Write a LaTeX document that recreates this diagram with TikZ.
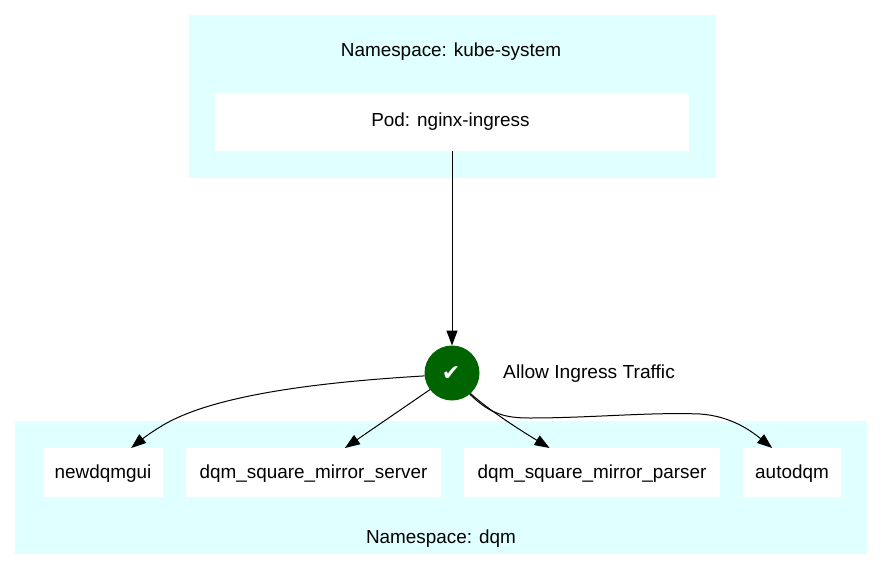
\documentclass[tikz,border=0pt]{standalone}
\usepackage{fontspec}
\setmainfont{Liberation Sans}
\newfontfamily\symfont{DejaVu Sans}
\usetikzlibrary{arrows.meta}
\definecolor{nsfill}{HTML}{E0FFFF}
\definecolor{okgreen}{HTML}{006400}
\newcommand{\lowered}[1]{\raisebox{-1.2pt}[\height][\depth]{#1}}
\tikzset{
  nsbox/.style={fill=nsfill,draw=none,inner sep=0pt,outer sep=0pt,anchor=north west},
  podbox/.style={fill=white,draw=none,inner sep=0pt,outer sep=0pt,align=center,font=\fontsize{18.9}{22}\selectfont},
  lbl/.style={inner sep=0pt,font=\fontsize{18.9}{22}\selectfont},
  edge/.style={draw=black,line width=1pt,-{Triangle[length=15pt,width=11pt]}}
}
\begin{document}
\begin{tikzpicture}[x=1pt,y=-1pt]
\useasboundingbox (0,0) rectangle (883,570);
\node[nsbox,minimum width=527pt,minimum height=163pt] (nsk) at (189,15) {};
\node[nsbox,minimum width=852pt,minimum height=133pt] (nsd) at (15,421) {};
\node[lbl] (nsklabel) at (451,51.5) {Namespace: kube-system};
\node[lbl] (nsdlabel) at (441,538.5) {Namespace: dqm};
\node[podbox,minimum width=474pt,minimum height=58pt] (pod) at (452,122) {\hspace{-3pt}Pod: nginx-ingress};
\node[podbox,minimum width=120pt,minimum height=49pt] (gui) at (103,472.5) {\lowered{newdqmgui}};
\node[podbox,minimum width=255pt,minimum height=49pt] (server) at (313.5,472.5) {\lowered{dqm\_square\_mirror\_server}};
\node[podbox,minimum width=256pt,minimum height=49pt] (parser) at (592,472.5) {\lowered{dqm\_square\_mirror\_parser}};
\node[podbox,minimum width=98pt,minimum height=49pt] (auto) at (792,472.5) {\lowered{autodqm}};
\node[circle,fill=okgreen,draw=none,minimum size=55pt,inner sep=0pt,outer sep=0pt,text=white,font=\symfont\fontsize{22}{24}\selectfont] (check) at (452,373) {\raisebox{-7pt}[0pt][0pt]{\hspace{-2pt}✔}};
\node[lbl,anchor=west,xscale=1.015] (allow) at (503,373.5) {Allow Ingress Traffic};
\draw[edge] (pod.south) -- (check.north);
\draw[edge] (check.186) .. controls (340,381) and (215,392) .. (160,427) .. controls (150,433) and (141,440) .. (gui.41);
\draw[edge] (check.217) -- (server.38);
\draw[edge] (check.-48) .. controls (490,411) and (520,430) .. (parser.150);
\draw[edge] (check.-50) .. controls (490,414) and (505,418) .. (530,418) .. controls (590,418) and (650,412) .. (700,414) .. controls (730,416) and (750,430) .. (auto.129);
\end{tikzpicture}
\end{document}
